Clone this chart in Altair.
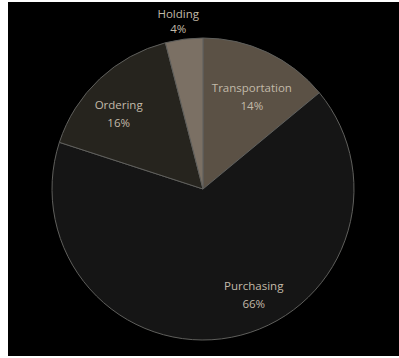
import altair as alt
import pandas as pd

categories = ["Transportation", "Purchasing", "Ordering", "Holding"]
shares = [14, 66, 16, 4]
pct_labels = ["14%", "66%", "16%", "4%"]
colors = ["#5b5145", "#151515", "#26241e", "#7b7064"]

df = pd.DataFrame({
    "category": categories,
    "share": shares,
    "pct": pct_labels,
    "idx": list(range(len(categories))),
})
df["label"] = df["category"] + "\n" + df["pct"]

CX, CY = 195, 187
TOTAL = sum(shares)

theta_scale = alt.Scale(domain=[0, TOTAL])
color = alt.Color("category:N", scale=alt.Scale(domain=categories, range=colors), legend=None)
order = alt.Order("idx:Q", sort="ascending")

arcs = alt.Chart(df).mark_arc(outerRadius=151, stroke="#5f5f5c", strokeWidth=1).encode(
    theta=alt.Theta("share:Q", stack=True, scale=theta_scale), color=color, order=order,
    x=alt.value(CX), y=alt.value(CY),
)

base = alt.Chart(df).transform_window(
    cum="sum(share)", sort=[alt.SortField("idx", order="ascending")]
).transform_calculate(mid="datum.cum - datum.share / 2")

def label_layer(cat, radius, dx=0, dy=0, line_height=18):
    return base.transform_filter(alt.datum.category == cat).mark_text(
        dx=dx, dy=dy, font="Open Sans", fontSize=11.5, color="#c2baa9", lineBreak="\n",
        lineHeight=line_height, align="center", baseline="middle"
    ).encode(
        theta=alt.Theta("mid:Q", stack=None, scale=theta_scale),
        radius=alt.value(radius),
        text="label:N",
        x=alt.value(CX), y=alt.value(CY),
    )

layers = [
    arcs,
    label_layer("Transportation", 110, dx=2, dy=0),
    label_layer("Ordering", 113, dx=-7, dy=-1),
    label_layer("Purchasing", 116, dx=29, dy=-16),
    label_layer("Holding", 166, dx=-4, dy=-9, line_height=15),
]

chart = alt.layer(*layers).properties(
    width=391, height=354,
    autosize=alt.AutoSizeParams(type="none"),
    padding={"left": 8, "top": 2, "right": 0, "bottom": 2},
    background="white",
).configure_view(fill="black", stroke=None)

chart.save("out.html", embed_options={"renderer": "svg", "actions": False})
